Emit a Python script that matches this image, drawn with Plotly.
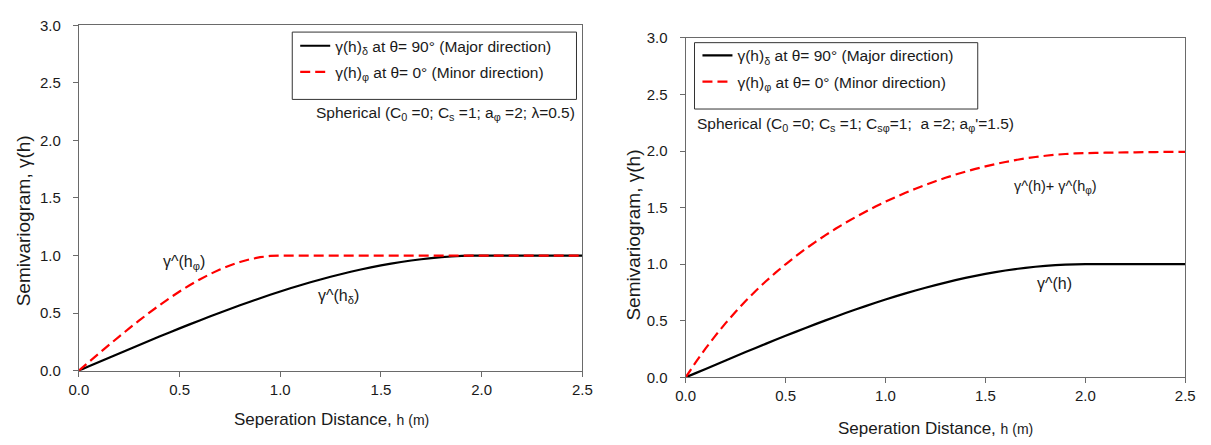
import plotly.graph_objects as go

# ---------------- data ----------------
h = [0.00, 0.05, 0.10, 0.15, 0.20, 0.25, 0.30, 0.35, 0.40, 0.45,
     0.50, 0.55, 0.60, 0.65, 0.70, 0.75, 0.80, 0.85, 0.90, 0.95,
     1.00, 1.05, 1.10, 1.15, 1.20, 1.25, 1.30, 1.35, 1.40, 1.45,
     1.50, 1.55, 1.60, 1.65, 1.70, 1.75, 1.80, 1.85, 1.90, 1.95,
     2.00, 2.05, 2.10, 2.15, 2.20, 2.25, 2.30, 2.35, 2.40, 2.45, 2.50]

# left panel
left_major = [0.0, 0.0375, 0.0749, 0.1123, 0.1495, 0.1865, 0.2233, 0.2598, 0.2960, 0.3318,
              0.3672, 0.4021, 0.4365, 0.4703, 0.5036, 0.5361, 0.5680, 0.5991, 0.6294, 0.6589,
              0.6875, 0.7152, 0.7418, 0.7675, 0.7920, 0.8154, 0.8377, 0.8587, 0.8785, 0.8970,
              0.9141, 0.9298, 0.9440, 0.9568, 0.9679, 0.9775, 0.9855, 0.9918, 0.9963, 0.9991,
              1.0, 1.0, 1.0, 1.0, 1.0, 1.0, 1.0, 1.0, 1.0, 1.0, 1.0]
left_minor = [0.0, 0.0749, 0.1495, 0.2233, 0.2960, 0.3672, 0.4365, 0.5036, 0.5680, 0.6294,
              0.6875, 0.7418, 0.7920, 0.8377, 0.8785, 0.9141, 0.9440, 0.9679, 0.9855, 0.9963,
              1.0, 1.0, 1.0, 1.0, 1.0, 1.0, 1.0, 1.0, 1.0, 1.0,
              1.0, 1.0, 1.0, 1.0, 1.0, 1.0, 1.0, 1.0, 1.0, 1.0,
              1.0, 1.0, 1.0, 1.0, 1.0, 1.0, 1.0, 1.0, 1.0, 1.0, 1.0]

# right panel
right_major = [0.0, 0.0375, 0.0749, 0.1123, 0.1495, 0.1865, 0.2233, 0.2598, 0.2960, 0.3318,
               0.3672, 0.4021, 0.4365, 0.4703, 0.5036, 0.5361, 0.5680, 0.5991, 0.6294, 0.6589,
               0.6875, 0.7152, 0.7418, 0.7675, 0.7920, 0.8154, 0.8377, 0.8587, 0.8785, 0.8970,
               0.9141, 0.9298, 0.9440, 0.9568, 0.9679, 0.9775, 0.9855, 0.9918, 0.9963, 0.9991,
               1.0, 1.0, 1.0, 1.0, 1.0, 1.0, 1.0, 1.0, 1.0, 1.0, 1.0]
right_minor = [0.0, 0.1327, 0.2562, 0.3715, 0.4792, 0.5800, 0.6745, 0.7632, 0.8467, 0.9252,
               0.9993, 1.0692, 1.1353, 1.1978, 1.2570, 1.3130, 1.3661, 1.4164, 1.4641, 1.5093,
               1.5522, 1.5927, 1.6310, 1.6672, 1.7013, 1.7333, 1.7634, 1.7915, 1.8177, 1.8420,
               1.8643, 1.8848, 1.9032, 1.9199, 1.9345, 1.9473, 1.9582, 1.9671, 1.9739, 1.9789,
               1.9817, 1.9834, 1.9850, 1.9864, 1.9877, 1.9889, 1.9899, 1.9909, 1.9918, 1.9926, 1.9933]

x_ticks = [0.0, 0.5, 1.0, 1.5, 2.0, 2.5]
y_ticks = [0.0, 0.5, 1.0, 1.5, 2.0, 2.5, 3.0]

name_major = "γ(h)<sub>δ</sub> at θ= 90° (Major direction)"
name_minor = "γ(h)<sub>φ</sub> at θ= 0° (Minor direction)"

# ---------------- figure ----------------
W, H = 1211, 445
FONT = "Arial, 'Liberation Sans', sans-serif"
TXT = "#1a1a1a"
AX = "#6a6a6a"
DASH = "10px,5px"

fig = go.Figure()

fig.add_trace(go.Scatter(x=h, y=left_major, mode="lines", name=name_major,
                         line=dict(color="black", width=2.2, simplify=False),
                         xaxis="x", yaxis="y", legend="legend", legendgroup="a"))
fig.add_trace(go.Scatter(x=h, y=left_minor, mode="lines", name=name_minor,
                         line=dict(color="#ff0000", width=2.2, dash=DASH, simplify=False),
                         xaxis="x", yaxis="y", legend="legend", legendgroup="b"))
fig.add_trace(go.Scatter(x=h, y=right_major, mode="lines", name=name_major,
                         line=dict(color="black", width=2.2, simplify=False),
                         xaxis="x2", yaxis="y2", legend="legend2", legendgroup="c"))
fig.add_trace(go.Scatter(x=h, y=right_minor, mode="lines", name=name_minor,
                         line=dict(color="#ff0000", width=2.2, dash=DASH, simplify=False),
                         xaxis="x2", yaxis="y2", legend="legend2", legendgroup="d"))


def px_x(p):
    return p / W


def px_y(p):
    return 1 - p / H


axis_common = dict(showgrid=False, zeroline=False, showline=True, linecolor=AX,
                   linewidth=1, mirror=True, ticks="outside", ticklen=5,
                   tickcolor=AX, tickfont=dict(size=15, color=TXT, family=FONT))

legend_common = dict(xanchor="left", yanchor="top", borderwidth=0,
                     bgcolor="rgba(0,0,0,0)", tracegroupgap=3,
                     font=dict(size=15.5, color=TXT, family=FONT))

fig.update_layout(
    width=W, height=H,
    margin=dict(l=0, r=0, t=0, b=0),
    paper_bgcolor="white", plot_bgcolor="white",
    font=dict(family=FONT, color=TXT, size=14),
    xaxis=dict(domain=[px_x(70), px_x(582)], range=[0, 2.5], anchor="y",
               tickvals=x_ticks, tickformat=".1f", **axis_common),
    yaxis=dict(domain=[px_y(376), px_y(17)], range=[0, 3], anchor="x",
               tickvals=y_ticks, tickformat=".1f", ticklabelstandoff=9, **axis_common),
    xaxis2=dict(domain=[px_x(687), px_x(1195)], range=[0, 2.5], anchor="y2",
                tickvals=x_ticks, tickformat=".1f", **axis_common),
    yaxis2=dict(domain=[px_y(383), px_y(30)], range=[0, 3], anchor="x2",
                tickvals=y_ticks, tickformat=".1f", ticklabelstandoff=9, **axis_common),
    legend=dict(x=px_x(290), y=px_y(21), **legend_common),
    legend2=dict(x=px_x(699), y=px_y(31), **legend_common),
    showlegend=True,
)

# legend frames
for (x0, y0, x1, y1) in [(287, 24, 576, 94), (696, 35, 984, 104)]:
    fig.add_shape(type="rect", xref="paper", yref="paper",
                  x0=px_x(x0), x1=px_x(x1), y0=px_y(y1), y1=px_y(y0),
                  line=dict(color="#333333", width=1), fillcolor="rgba(0,0,0,0)")

annots = [
    # axis titles
    dict(text="Seperation Distance, <span style='font-size:14px'>h (m)</span>",
         x=px_x(327), y=px_y(427), size=17),
    dict(text="Seperation Distance, <span style='font-size:14px'>h (m)</span>",
         x=px_x(941), y=px_y(436), size=17),
    dict(text="Semivariogram, γ(h)", x=px_x(14), y=px_y(220), size=19, angle=-90),
    dict(text="Semivariogram, γ(h)", x=px_x(633), y=px_y(235), size=19, angle=-90),
    # model descriptions
    dict(text="Spherical (C<sub>0</sub> =0; C<sub>s</sub> =1; a<sub>φ</sub> =2; λ=0.5)",
         x=px_x(577), y=px_y(109), size=15.5, xanchor="right"),
    dict(text="Spherical (C<sub>0</sub> =0; C<sub>s</sub> =1; C<sub>sφ</sub>=1;  a =2; a<sub>φ</sub>'=1.5)",
         x=px_x(697), y=px_y(120), size=15.5, xanchor="left"),
    # curve labels
    dict(text="γ^(h<sub>φ</sub>)", x=px_x(177), y=px_y(264), size=16),
    dict(text="γ^(h<sub>δ</sub>)", x=px_x(334), y=px_y(299), size=16),
    dict(text="γ^(h)+ γ^(h<sub>φ</sub>)", x=px_x(1063), y=px_y(185), size=14.5),
    dict(text="γ^(h)", x=px_x(1062), y=px_y(285), size=16),
]
for a in annots:
    fig.add_annotation(text=a["text"], x=a["x"], y=a["y"], xref="paper", yref="paper",
                       showarrow=False, xanchor=a.get("xanchor", "center"),
                       yanchor="middle", textangle=a.get("angle", 0),
                       font=dict(size=a["size"], color=TXT, family=FONT))

fig.write_html("out.html")
